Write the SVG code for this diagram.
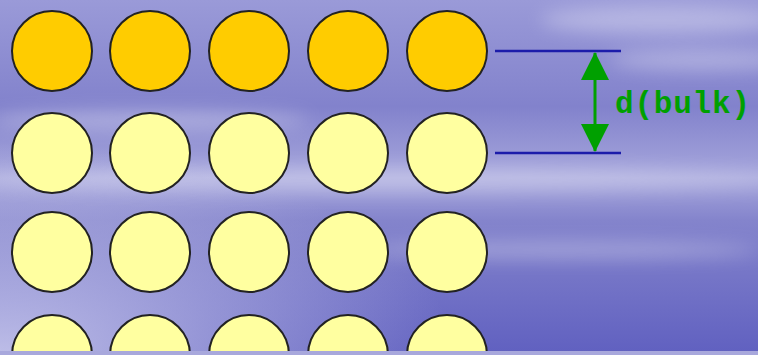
<svg xmlns="http://www.w3.org/2000/svg" width="758" height="355" viewBox="0 0 758 355">
<defs>
<linearGradient id="sky" x1="0" y1="0" x2="0" y2="1">
<stop offset="0" stop-color="#9a9ad8"/>
<stop offset="0.3" stop-color="#8282cc"/>
<stop offset="0.5" stop-color="#a6a6dc"/>
<stop offset="0.62" stop-color="#8484cc"/>
<stop offset="1" stop-color="#6060c0"/>
</linearGradient>
<radialGradient id="glowL" cx="0" cy="1" r="0.6">
<stop offset="0" stop-color="#c8c8ec" stop-opacity="0.9"/>
<stop offset="1" stop-color="#c8c8ec" stop-opacity="0"/>
</radialGradient>
<filter id="blur" x="-50%" y="-50%" width="200%" height="200%"><feGaussianBlur stdDeviation="9"/></filter>
<marker id="ah" viewBox="0 0 28 28" refX="27" refY="14" markerWidth="28" markerHeight="28" markerUnits="userSpaceOnUse" orient="auto-start-reverse">
<path d="M0,0 L28,14 L0,28 Z" fill="#00a000"/>
</marker>
<style>
.top{fill:#ffcc00;stroke:#222;stroke-width:2}
.bulk{fill:#ffffa0;stroke:#222;stroke-width:2}
.ref{stroke:#1c1caa;stroke-width:2.5}
.dim{stroke:#00a000;stroke-width:3;fill:none}
.lbl{font-family:"Liberation Mono","DejaVu Sans Mono",monospace;font-weight:bold;font-size:31px;fill:#00a000}
</style>
</defs>
<rect width="758" height="355" fill="url(#sky)"/>
<rect width="758" height="355" fill="url(#glowL)"/>
<g filter="url(#blur)" fill="#ffffff" opacity="0.3">
<ellipse cx="660" cy="20" rx="120" ry="14"/>
<ellipse cx="700" cy="60" rx="90" ry="10"/>
<ellipse cx="380" cy="180" rx="420" ry="12"/>
<ellipse cx="150" cy="120" rx="160" ry="10"/>
<ellipse cx="560" cy="250" rx="200" ry="8"/>
</g>
<g id="row1">
<circle class="top" cx="52" cy="51" r="40"/>
<circle class="top" cx="150" cy="51" r="40"/>
<circle class="top" cx="249" cy="51" r="40"/>
<circle class="top" cx="348" cy="51" r="40"/>
<circle class="top" cx="447" cy="51" r="40"/>
</g>
<g id="row2">
<circle class="bulk" cx="52" cy="153" r="40"/>
<circle class="bulk" cx="150" cy="153" r="40"/>
<circle class="bulk" cx="249" cy="153" r="40"/>
<circle class="bulk" cx="348" cy="153" r="40"/>
<circle class="bulk" cx="447" cy="153" r="40"/>
</g>
<g id="row3">
<circle class="bulk" cx="52" cy="252" r="40"/>
<circle class="bulk" cx="150" cy="252" r="40"/>
<circle class="bulk" cx="249" cy="252" r="40"/>
<circle class="bulk" cx="348" cy="252" r="40"/>
<circle class="bulk" cx="447" cy="252" r="40"/>
</g>
<g id="row4">
<circle class="bulk" cx="52" cy="355" r="40"/>
<circle class="bulk" cx="150" cy="355" r="40"/>
<circle class="bulk" cx="249" cy="355" r="40"/>
<circle class="bulk" cx="348" cy="355" r="40"/>
<circle class="bulk" cx="447" cy="355" r="40"/>
</g>
<rect x="0" y="351" width="758" height="4" fill="#a8a8dc"/>
<g id="connectors">
<line class="ref" x1="495" y1="51" x2="621" y2="51"/>
<line class="ref" x1="495" y1="153" x2="621" y2="153"/>
<line class="dim" x1="595" y1="53" x2="595" y2="151" marker-start="url(#ah)" marker-end="url(#ah)"/>
</g>
<g id="label">
<text class="lbl" x="615" y="113" textLength="135" lengthAdjust="spacing">d(bulk)</text>
</g>
</svg>
